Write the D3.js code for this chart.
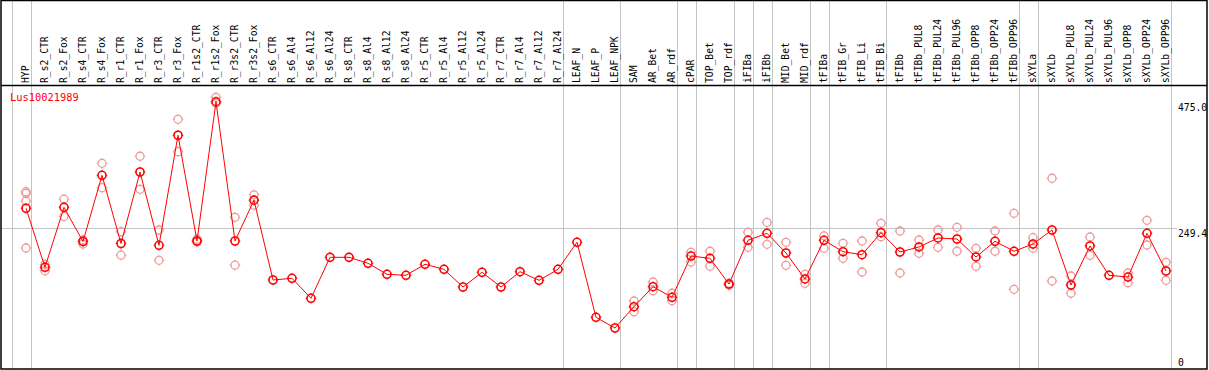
<!DOCTYPE html>
<html>
<head>
<meta charset="utf-8">
<script src="https://cdn.jsdelivr.net/npm/d3@7"></script>
<style>
  body { margin: 0; background: #fff; }
  text { font-family: "DejaVu Sans Mono", monospace; font-size: 9.7px; }
</style>
</head>
<body>
<svg id="chart" width="1209" height="370"></svg>
<script>
const samples = ["HYP", "R_s2_CTR", "R_s2_Fox", "R_s4_CTR", "R_s4_Fox", "R_r1_CTR", "R_r1_Fox",
    "R_r3_CTR", "R_r3_Fox", "R_r1s2_CTR", "R_r1s2_Fox", "R_r3s2_CTR", "R_r3s2_Fox",
    "R_s6_CTR", "R_s6_Al4", "R_s6_Al12", "R_s6_Al24", "R_s8_CTR", "R_s8_Al4", "R_s8_Al12", "R_s8_Al24",
    "R_r5_CTR", "R_r5_Al4", "R_r5_Al12", "R_r5_Al24", "R_r7_CTR", "R_r7_Al4", "R_r7_Al12", "R_r7_Al24",
    "LEAF_N", "LEAF_P", "LEAF_NPK", "SAM", "AR_Bet", "AR_rdf", "cPAR", "TOP_Bet", "TOP_rdf",
    "iFIBa", "iFIBb", "MID_Bet", "MID_rdf", "tFIBa", "tFIB_Gr", "tFIB_Li", "tFIB_Bi", "tFIBb",
    "tFIBb_PUL8", "tFIBb_PUL24", "tFIBb_PUL96", "tFIBb_OPP8", "tFIBb_OPP24", "tFIBb_OPP96",
    "sXYLa", "sXYLb", "sXYLb_PUL8", "sXYLb_PUL24", "sXYLb_PUL96", "sXYLb_OPP8", "sXYLb_OPP24", "sXYLb_OPP96"];

// mean expression per sample
const means = [284.2, 178.5, 285.9, 224.7, 343.2, 221.1, 349.1, 217.9, 414.9, 225.6, 475.0, 225.6, 298.7,
    155.8, 158.8, 123.0, 196.4, 196.4, 185.7, 166.0, 164.2, 183.9, 174.9, 143.2, 169.6, 143.2, 170.6, 155.2, 174.9,
    223.3, 89.0, 69.8, 108.0, 143.8, 124.8, 198.7, 194.6, 148.6, 226.9, 239.4, 204.1, 157.6, 226.9, 206.4,
    201.1, 240.5, 205.9, 214.9, 231.0, 229.2, 197.0, 225.1, 207.2, 220.2, 245.3, 146.8, 216.7, 164.2,
    161.1, 239.4, 171.9];

// replicate values (empty where none shown)
const replicates = [[313.9, 311.0, 297.2, 213.1], [183.5, 172.2], [300.4, 269.6], [227.4, 220.2], [364.7, 321.0],
    [242.3, 200.2], [377.3, 318.2], [245.3, 191.0], [443.5, 385.5], [228.7, 223.8], [482.9, 472.2],
    [268.0, 182.3], [308.3, 289.7],
    [], [], [], [], [], [], [], [], [], [], [], [], [], [], [], [], [], [], [],
    [118.2, 99.0], [152.2, 136.6], [132.0, 118.7], [205.4, 188.0], [207.2, 180.3], [149.9, 146.3],
    [241.2, 214.3], [259.1, 219.7], [223.3, 182.1], [166.0, 149.9], [234.6, 212.5], [221.5, 194.6],
    [225.6, 170.1], [257.3, 233.3], [243.5, 168.3], [227.4, 203.6], [245.3, 214.3], [250.1, 207.2],
    [212.5, 180.3], [243.5, 207.2], [275.2, 139.1], [231.5, 212.5], [337.9, 154.0], [162.9, 132.0],
    [232.8, 200.0], [], [168.3, 150.9], [262.7, 218.4], [187.5, 155.2]];

// index of last sample in each group (vertical separators)
const groupEnds = [-1, 0, 28, 31, 34, 35, 37, 38, 39, 41, 42, 45, 52, 53, 60];
const yTicks = [475.0, 249.4, 0];
const gridValue = 249.4;
const geneName = "Lus10021989";

const headerBottom = 85, plotBottom = 369, plotRight = 1207;

const svg = d3.select("#chart");

const x = d3.scaleLinear().domain([0, samples.length - 1]).range([26, 1166]);
const y = d3.scaleLinear().domain([0, 475]).range([367, 101.7]);

const red = "#ff0000";
const pink = "#ee9a9a";

// horizontal grid
svg.append("line")
    .attr("x1", 1).attr("x2", 1177)
    .attr("y1", Math.round(y(gridValue)) + 0.5).attr("y2", Math.round(y(gridValue)) + 0.5)
    .attr("stroke", "#c4c4c4");

// vertical group separators
svg.selectAll(".sep")
    .data(groupEnds)
    .enter()
    .append("line")
    .attr("class", "sep")
    .attr("x1", d => Math.round(x(d + 0.25)) + 0.5)
    .attr("x2", d => Math.round(x(d + 0.25)) + 0.5)
    .attr("y1", 0).attr("y2", plotBottom)
    .attr("stroke", "#c4c4c4");

// frame
svg.append("rect")
    .attr("x", 1).attr("y", 0.5)
    .attr("width", plotRight - 1).attr("height", plotBottom - 0.5)
    .attr("fill", "none").attr("stroke", "#000").attr("stroke-width", 1.5);
svg.append("line")
    .attr("x1", 1).attr("x2", plotRight)
    .attr("y1", headerBottom + 0.5).attr("y2", headerBottom + 0.5)
    .attr("stroke", "#000").attr("stroke-width", 1.3);

// sample labels
svg.selectAll(".lab")
    .data(samples)
    .enter()
    .append("text")
    .attr("class", "lab")
    .attr("transform", (d, i) => `translate(${x(i) + 2.5},83) rotate(-90)`)
    .attr("fill", "#000")
    .text(d => d);

// y labels
svg.selectAll(".ylab")
    .data(yTicks)
    .enter()
    .append("text")
    .attr("class", "ylab")
    .attr("x", 1178)
    .attr("y", d => Math.min(y(d) + 8.8, 365.5))
    .attr("fill", "#000")
    .text(d => d === 0 ? "0" : d.toFixed(1));

svg.append("text")
    .attr("x", 10).attr("y", 100.5)
    .attr("fill", red)
    .style("font-size", "10.4px")
    .text(geneName);

function marker(sel, color, sw) {
    sel.append("circle")
        .attr("r", 4)
        .attr("fill", "none")
        .attr("stroke", color)
        .attr("stroke-width", sw);
    sel.append("path")
        .attr("d", "M0,-4V-5.3M0,4V5.3M-4,0H-5.3M4,0H5.3")
        .attr("stroke", color)
        .attr("stroke-width", 1);
}

// replicates
const repPoints = [];
replicates.forEach((r, i) => r.forEach(v => repPoints.push({ i, v })));
svg.selectAll(".rep")
    .data(repPoints)
    .enter()
    .append("g")
    .attr("class", "rep")
    .attr("transform", d => `translate(${x(d.i)},${y(d.v)})`)
    .call(marker, pink, 1.3);

// mean line
svg.append("path")
    .datum(means)
    .attr("fill", "none")
    .attr("stroke", red)
    .attr("stroke-width", 1)
    .attr("d", d3.line().x((d, i) => x(i)).y(d => y(d)));

svg.selectAll(".mean")
    .data(means)
    .enter()
    .append("g")
    .attr("class", "mean")
    .attr("transform", (d, i) => `translate(${x(i)},${y(d)})`)
    .call(marker, red, 1.6);
</script>
</body>
</html>
